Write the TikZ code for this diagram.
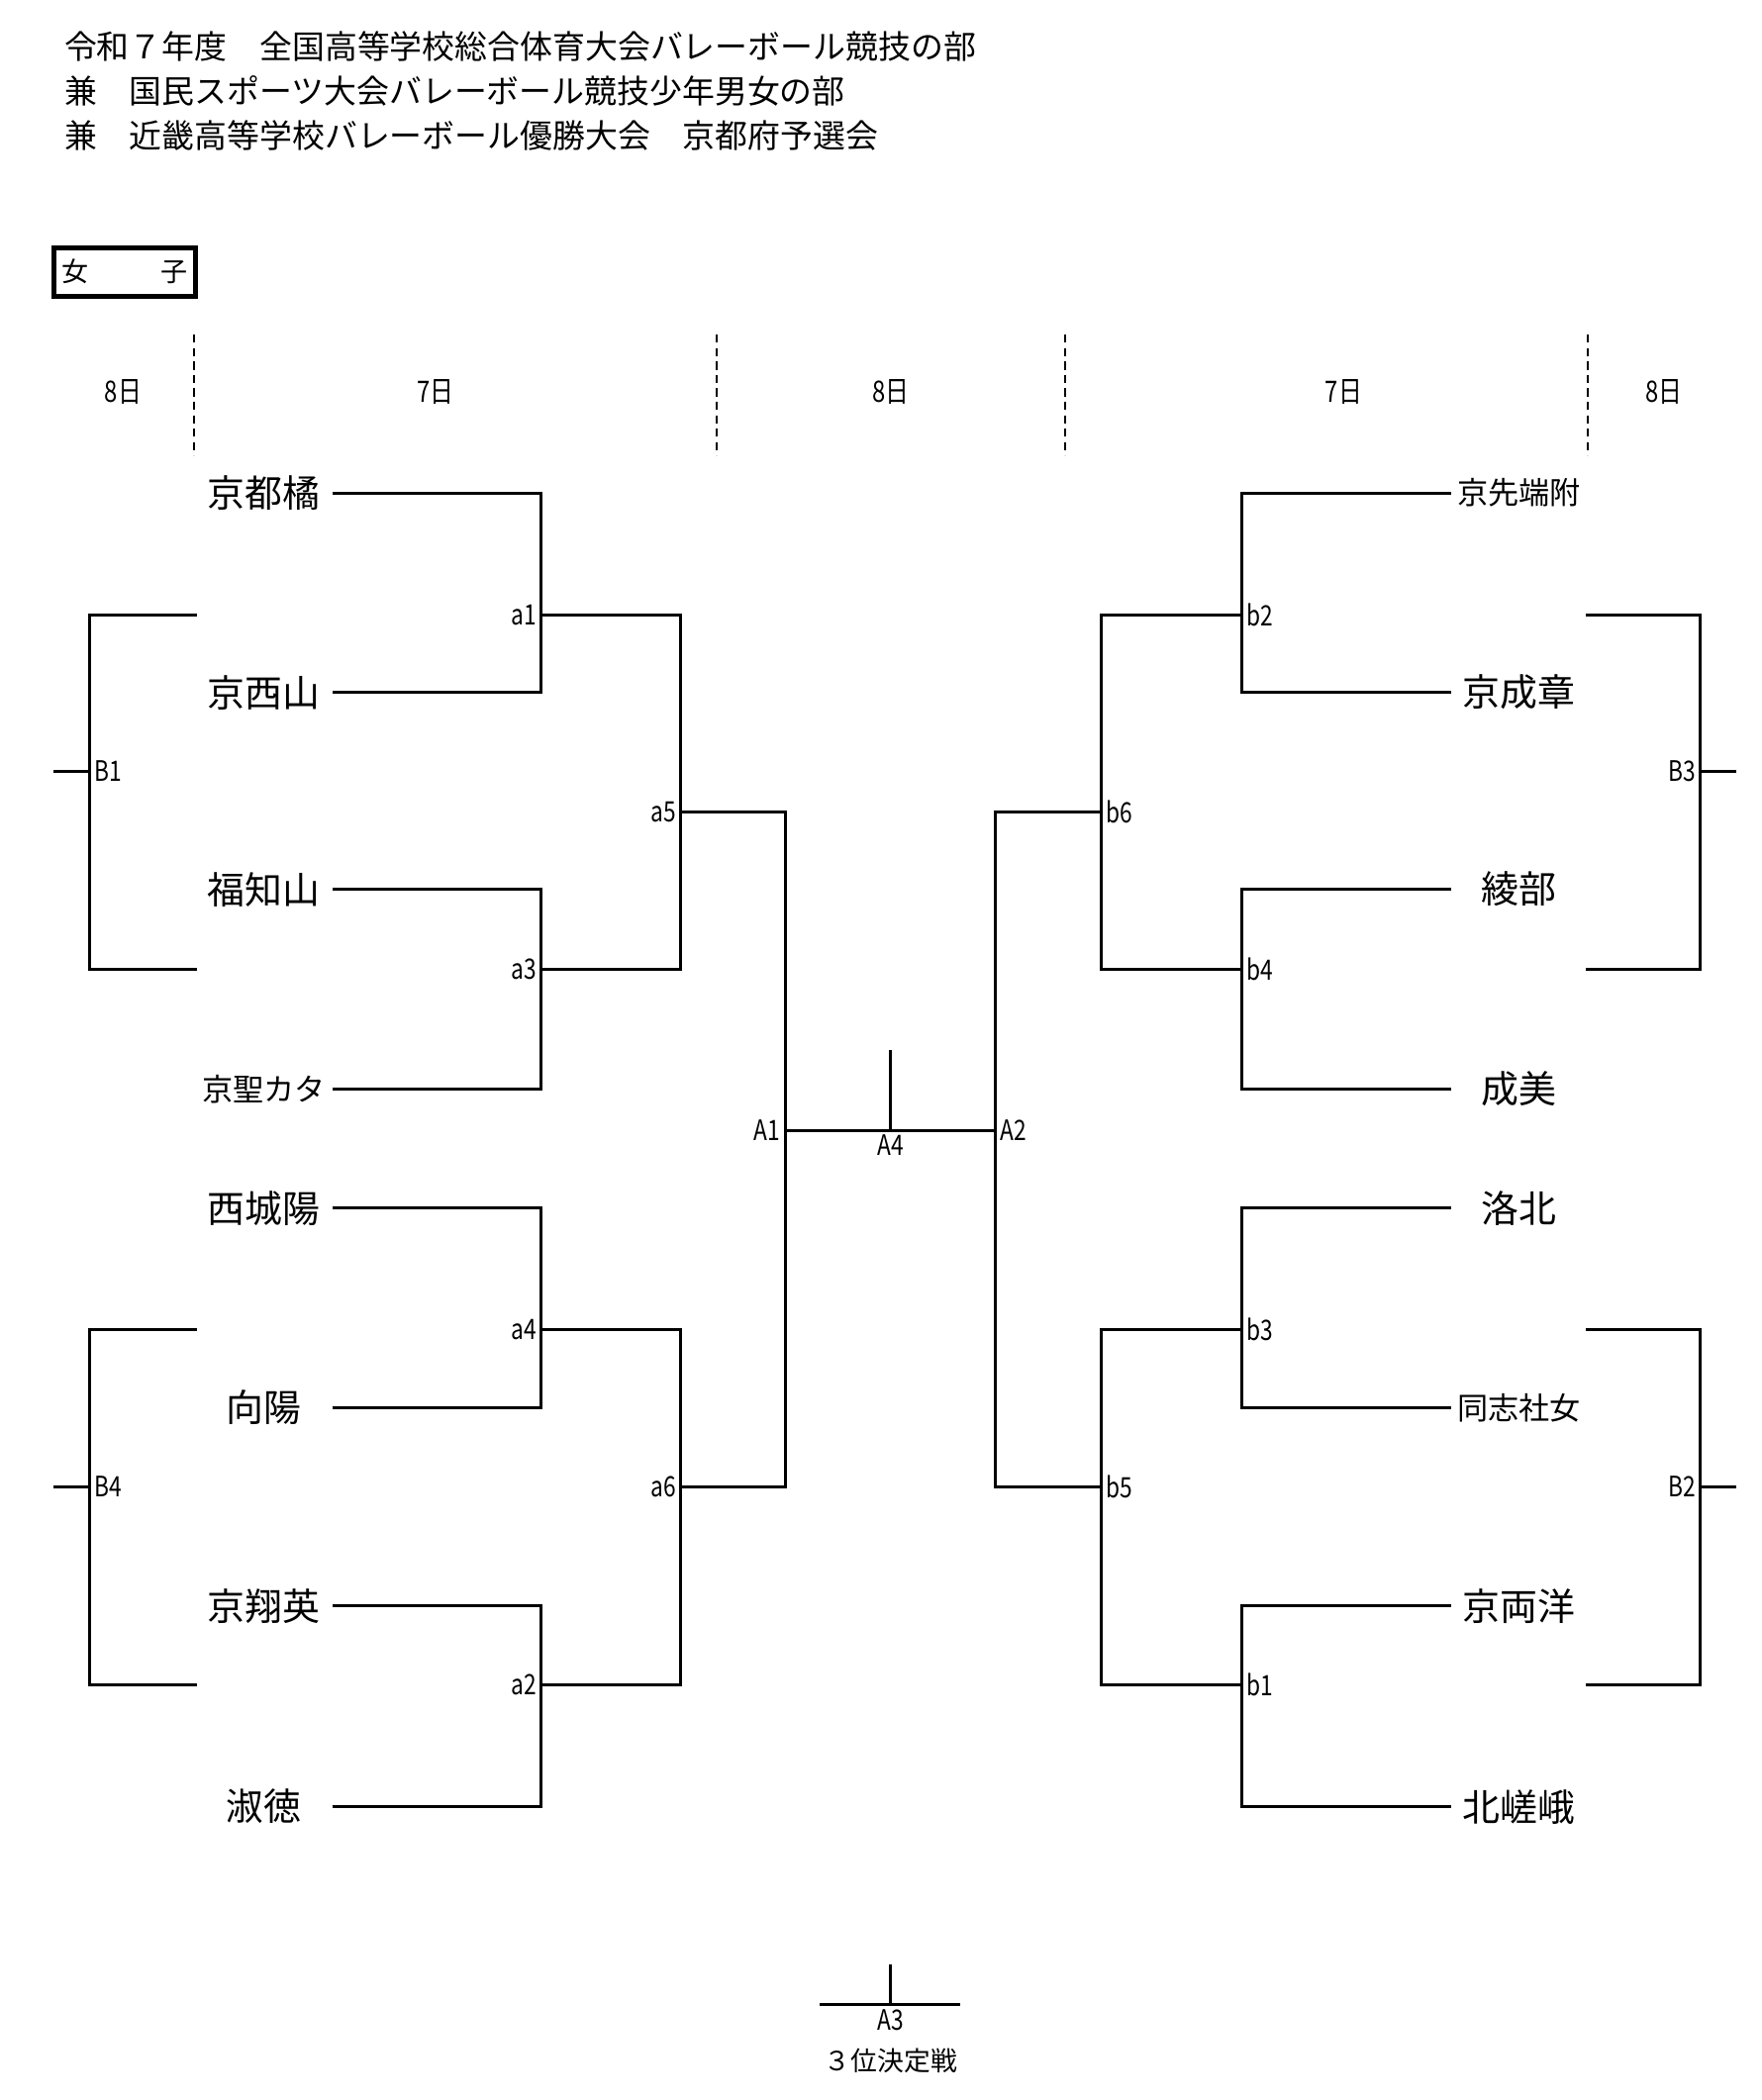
\documentclass[tikz,border=0pt]{standalone}
\usepackage{fontspec}
\setmainfont{Noto Sans CJK JP}
\newfontfamily\lblfont[FakeStretch=0.8]{Noto Sans CJK JP}
\begin{document}
\begin{tikzpicture}[x=0.5pt,y=-0.5pt,line width=1.1pt,line cap=rect]
\tikzset{
 team/.style={inner sep=0pt, minimum width=51pt, font=\fontsize{14}{16}\selectfont},
 teamS/.style={team, font=\fontsize{11.5}{13}\selectfont},
 lbl/.style={font=\lblfont\fontsize{10.5}{11}\selectfont, inner sep=1.2pt},
 day/.style={font=\lblfont\fontsize{11}{12}\selectfont, inner sep=0pt},
 ttl/.style={anchor=west, inner sep=0pt, font=\fontsize{12.15}{14}\selectfont},
 sep/.style={line width=0.8pt, line cap=butt, dash pattern=on 3pt off 2pt},
}
\useasboundingbox (0,0) rectangle (1315,1568);
% title
\node[ttl] (t1) at (47,35) {令和７年度　全国高等学校総合体育大会バレーボール競技の部};
\node[ttl] (t2) at (47,68) {兼　国民スポーツ大会バレーボール競技少年男女の部};
\node[ttl] (t3) at (47,101) {兼　近畿高等学校バレーボール優勝大会　京都府予選会};
\node[draw, line width=1.8pt, minimum width=53pt, minimum height=18pt, inner sep=0pt,
      font=\fontsize{10}{12}\selectfont] (sex) at (93,203) {女\hspace{27pt}子};
% day separators
\coordinate (s1t) at (145,250); \coordinate (s1b) at (145,340);
\coordinate (s2t) at (535,250); \coordinate (s2b) at (535,340);
\coordinate (s3t) at (795,250); \coordinate (s3b) at (795,340);
\coordinate (s4t) at (1185,250); \coordinate (s4b) at (1185,340);
\foreach \s in {s1,s2,s3,s4} \draw[sep] (\s t) -- (\s b);
\node[day] (d1) at (92,293) {8日};
\node[day] (d2) at (325,293) {7日};
\node[day] (d3) at (665,293) {8日};
\node[day] (d4) at (1003,293) {7日};
\node[day] (d5) at (1242,293) {8日};
% teams
\node[team]  (L1) at (197,368) {京都橘};
\node[team]  (L2) at (197,517) {京西山};
\node[team]  (L3) at (197,664) {福知山};
\node[teamS] (L4) at (197,813) {京聖カタ};
\node[team]  (L5) at (197,902) {西城陽};
\node[team]  (L6) at (197,1051) {向陽};
\node[team]  (L7) at (197,1199) {京翔英};
\node[team]  (L8) at (197,1349) {淑徳};
\node[teamS] (R1) at (1134,368) {京先端附};
\node[team]  (R2) at (1134,517) {京成章};
\node[team]  (R3) at (1134,664) {綾部};
\node[team]  (R4) at (1134,813) {成美};
\node[team]  (R5) at (1134,902) {洛北};
\node[teamS] (R6) at (1134,1051) {同志社女};
\node[team]  (R7) at (1134,1199) {京両洋};
\node[team]  (R8) at (1134,1349) {北嵯峨};
% junctions
\coordinate (a1) at (404,459);
\coordinate (a3) at (404,724);
\coordinate (a4) at (404,993);
\coordinate (a2) at (404,1258);
\coordinate (a5) at (508,606);
\coordinate (a6) at (508,1110);
\coordinate (A1) at (586,844);
\coordinate (A2) at (743,844);
\coordinate (A4) at (665,844);
\coordinate (A4t) at (665,785);
\coordinate (b6) at (822,606);
\coordinate (b5) at (822,1110);
\coordinate (b2) at (927,459);
\coordinate (b4) at (927,724);
\coordinate (b3) at (927,993);
\coordinate (b1) at (927,1258);
% bracket lines
\draw (L1.east) -| (a1) |- (L2.east);
\draw (L3.east) -| (a3) |- (L4.east);
\draw (L5.east) -| (a4) |- (L6.east);
\draw (L7.east) -| (a2) |- (L8.east);
\draw (a1) -| (a5) |- (a3);
\draw (a4) -| (a6) |- (a2);
\draw (a5) -| (A1) |- (a6);
\draw (A1) -- (A2);
\draw (A4) -- (A4t);
\draw (b6) -| (A2) |- (b5);
\draw (b2) -| (b6) |- (b4);
\draw (b3) -| (b5) |- (b1);
\draw (R1.west) -| (b2) |- (R2.west);
\draw (R3.west) -| (b4) |- (R4.west);
\draw (R5.west) -| (b3) |- (R6.west);
\draw (R7.west) -| (b1) |- (R8.west);
% B brackets
\coordinate (B1) at (67,576);  \coordinate (B1t) at (146,459);  \coordinate (B1b) at (146,724);  \coordinate (B1s) at (41,576);
\coordinate (B4) at (67,1110); \coordinate (B4t) at (146,993);  \coordinate (B4b) at (146,1258); \coordinate (B4s) at (41,1110);
\coordinate (B3) at (1269,576);  \coordinate (B3t) at (1185,459); \coordinate (B3b) at (1185,724);  \coordinate (B3s) at (1295,576);
\coordinate (B2) at (1269,1110); \coordinate (B2t) at (1185,993); \coordinate (B2b) at (1185,1258); \coordinate (B2s) at (1295,1110);
\foreach \b in {B1,B4,B3,B2} {
  \draw (\b t) -| (\b) |- (\b b);
  \draw (\b) -- (\b s);
}
% third place
\coordinate (A3) at (665,1497);
\coordinate (A3l) at (613,1497);
\coordinate (A3r) at (716,1497);
\coordinate (A3t) at (665,1468);
\draw (A3l) -- (A3r);
\draw (A3) -- (A3t);
% labels
\node[lbl, anchor=east] (la1) at (a1) {a1};
\node[lbl, anchor=east] (la3) at (a3) {a3};
\node[lbl, anchor=east] (la4) at (a4) {a4};
\node[lbl, anchor=east] (la2) at (a2) {a2};
\node[lbl, anchor=east] (la5) at (a5) {a5};
\node[lbl, anchor=east] (la6) at (a6) {a6};
\node[lbl, anchor=east] (lA1) at (A1) {A1};
\node[lbl, anchor=west] (lA2) at (A2) {A2};
\node[lbl, anchor=north] (lA4) at (A4) {A4};
\node[lbl, anchor=west] (lb6) at (b6) {b6};
\node[lbl, anchor=west] (lb5) at (b5) {b5};
\node[lbl, anchor=west] (lb2) at (b2) {b2};
\node[lbl, anchor=west] (lb4) at (b4) {b4};
\node[lbl, anchor=west] (lb3) at (b3) {b3};
\node[lbl, anchor=west] (lb1) at (b1) {b1};
\node[lbl, anchor=west] (lB1) at (B1) {B1};
\node[lbl, anchor=west] (lB4) at (B4) {B4};
\node[lbl, anchor=east] (lB3) at (B3) {B3};
\node[lbl, anchor=east] (lB2) at (B2) {B2};
\node[lbl, anchor=north] (lA3) at (A3) {A3};
\node[font=\fontsize{9.9}{11}\selectfont, inner sep=0pt] (third) at (665,1539) {３位決定戦};
\end{tikzpicture}
\end{document}
